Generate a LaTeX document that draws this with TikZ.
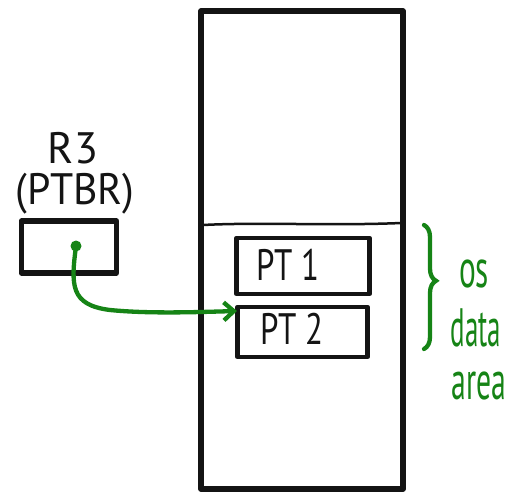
\documentclass[tikz,border=0pt]{standalone}
\usepackage{fontspec}
\setmainfont{PT Sans}
\usetikzlibrary{arrows.meta,decorations.pathreplacing}
\definecolor{ink}{RGB}{20,20,20}
\definecolor{pen}{RGB}{22,132,22}
\newcommand{\narrow}[2]{\scalebox{#1}[1]{#2}}
\begin{document}
\begin{tikzpicture}[x=1pt,y=-1pt,
  box/.style={draw=ink,line width=5.5pt,line join=round},
  slot/.style={draw=ink,line width=4.3pt,line join=round},
  lbl/.style={font=\fontsize{44}{46}\selectfont,text=ink,inner sep=0pt},
  note/.style={font=\fontsize{54}{54}\selectfont,text=pen,inner sep=0pt,anchor=base}]
\useasboundingbox[fill=white] (0,0) rectangle (515,491);
% memory column
\draw[box] (201,11) rectangle (403,489);
\draw[ink,line width=2.5pt] (203,225) .. controls (260,222) and (330,226) .. (401,223);
% page tables
\node[slot,minimum width=133pt,minimum height=56pt] (pt1) at (303,266) {};
\node[lbl] (pt1txt) at (288,265) {\narrow{0.75}{PT 1}};
\node[slot,minimum width=130pt,minimum height=50pt] (pt2) at (302.5,332) {};
\node[lbl] (pt2txt) at (292,329) {\narrow{0.75}{PT 2}};
% register
\node[box,minimum width=95pt,minimum height=52pt] (r3) at (69,247) {};
\node[lbl] (r3name) at (73,148) {R3};
\node[lbl] (r3sub) at (75,194) {\narrow{0.95}{(PTBR)}};
\coordinate (ptr) at (76,246);
\coordinate (tip) at (237,311);
\fill[pen] (ptr) circle (5.5pt);
\draw[pen,line width=4.3pt,-{Straight Barb[length=10pt,width=18pt,line width=4.3pt]}]
  (ptr) .. controls (71,285) and (70,305) .. (110,310)
  .. controls (150,314) and (200,312) .. (tip);
% OS data area brace
\draw[pen,line width=4.3pt,line cap=round,decorate,
  decoration={brace,amplitude=12pt,aspect=0.45}] (424,225) -- (424,349);
\node[note] (os) at (474,287) {\narrow{0.58}{os}};
\node[note] (data) at (476,346) {\narrow{0.5}{data}};
\node[note] (area) at (479,399) {\narrow{0.55}{area}};
\end{tikzpicture}
\end{document}
